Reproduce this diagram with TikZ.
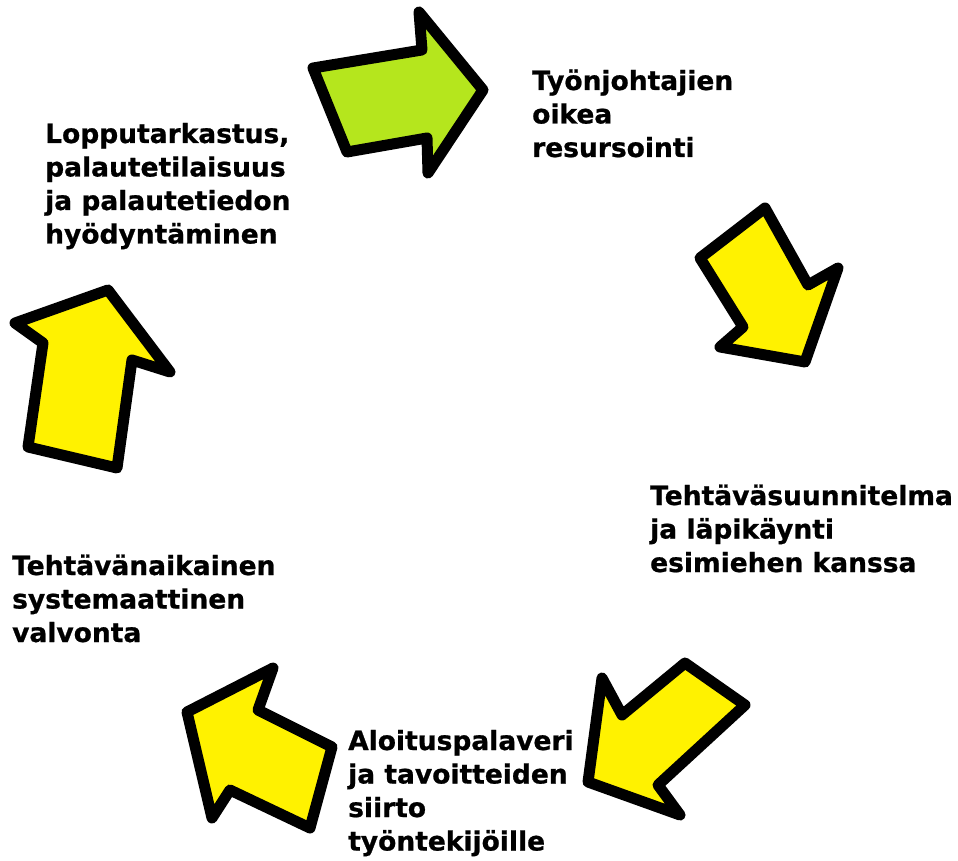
\documentclass[tikz,border=0pt]{standalone}
\usepackage{fontspec}
\setmainfont{DejaVu Sans}[BoldFeatures={FakeBold=0.8}]
\definecolor{arrgreen}{HTML}{B5E61D}
\definecolor{arryellow}{HTML}{FFF200}
\tikzset{
  arrowshape/.style={draw=black, line width=11pt, line join=round},
  lbl/.style={anchor=base west, inner sep=0pt, align=left, text=black,
    font=\fontsize{26.5}{33.5}\selectfont\bfseries}
}
\begin{document}
\begin{tikzpicture}[x=1pt, y=-1pt]
\useasboundingbox (0,0) rectangle (958,861);
% green arrow (top)
\filldraw[arrowshape, fill=arrgreen] (313,68) -- (422,50) -- (419,12) -- (483,90) -- (428,173) -- (427,138) -- (347,152) -- cycle;
% arrow right
\filldraw[arrowshape, fill=arryellow] (765,208) -- (700,258) -- (743,327) -- (720,347) -- (805,362) -- (838,268) -- (808,285) -- cycle;
% arrow bottom right
\filldraw[arrowshape, fill=arryellow] (685,663) -- (745,705) -- (658,785) -- (680,815) -- (588,782) -- (602,678) -- (622,715) -- cycle;
% arrow bottom left
\filldraw[arrowshape, fill=arryellow] (273,668) -- (187,712) -- (212,818) -- (230,790) -- (310,828) -- (332,747) -- (258,710) -- cycle;
% arrow left
\filldraw[arrowshape, fill=arryellow] (108,290) -- (15,323) -- (43,343) -- (28,447) -- (117,468) -- (132,360) -- (170,372) -- cycle;
% labels (anchored at the baseline of the last line)
\node[lbl] (t1) at (532,157) {Työnjohtajien\\oikea\\resursointi};
\node[lbl] (t2) at (650,572) {Tehtäväsuunnitelma\\ja läpikäynti\\esimiehen kanssa};
\node[lbl] (t3) at (348,850.5) {Aloituspalaveri\\ja tavoitteiden\\siirto\\työntekijöille};
\node[lbl] (t4) at (12,642) {Tehtävänaikainen\\systemaattinen\\valvonta};
\node[lbl] (t5) at (45,243.5) {Lopputarkastus,\\palautetilaisuus\\ja palautetiedon\\hyödyntäminen};
\end{tikzpicture}
\end{document}
